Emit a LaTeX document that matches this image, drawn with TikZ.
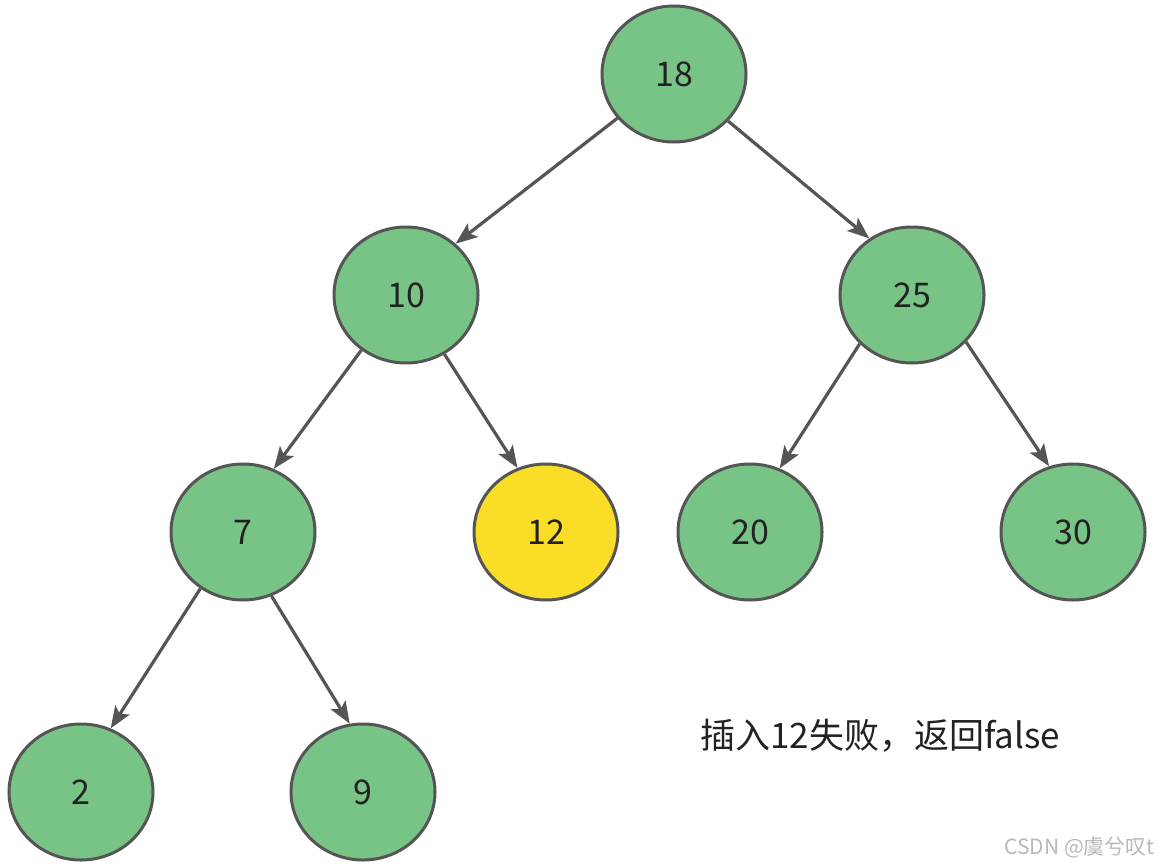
\documentclass[tikz,border=0pt]{standalone}
\usepackage{fontspec}
\setmainfont{Noto Sans CJK SC}
\usetikzlibrary{shapes.geometric,arrows.meta}
\definecolor{nodegreen}{HTML}{78C487}
\definecolor{nodeyellow}{HTML}{F9DD27}
\definecolor{edgegray}{HTML}{555555}
\definecolor{txt}{HTML}{222222}
\tikzset{
  treenode/.style={ellipse, draw=edgegray, line width=3pt, fill=nodegreen,
    minimum width=144pt, minimum height=136pt, inner sep=0pt,
    font=\fontsize{34}{40}\selectfont, text=txt},
  hitnode/.style={treenode, fill=nodeyellow},
  edge/.style={draw=edgegray, line width=3.2pt,
    -{Stealth[length=22pt,width=17pt,inset=5pt]}}
}
\begin{document}
\begin{tikzpicture}[x=1pt,y=-1pt]
\useasboundingbox (0,0) rectangle (1158,867);
\node[treenode] (n18) at (674,74) {18};
\node[treenode] (n10) at (406,295) {10};
\node[treenode] (n25) at (912,295) {25};
\node[treenode] (n7) at (243,532) {7};
\node[hitnode] (n12) at (546,532) {12};
\node[treenode] (n20) at (750,532) {20};
\node[treenode] (n30) at (1073,532) {30};
\node[treenode] (n2) at (81,792) {2};
\node[treenode] (n9) at (363,792) {9};
\draw[edge] (n18.218.7) -- (n10.46.6);
\draw[edge] (n18.319.4) -- (n25.127.7);
\draw[edge] (n10.231.1) -- (n7.64.8);
\draw[edge] (n10.303) -- (n12.114.1);
\draw[edge] (n25.223.9) -- (n20.65.8);
\draw[edge] (n25.319.4) -- (n30.110);
\draw[edge] (n7.233.9) -- (n2.65.8);
\draw[edge] (n7.294.7) -- (n9.101.8);
\node[anchor=west, inner sep=0pt, font=\fontsize{35}{42}\selectfont, text=txt] (msg) at (700,736) {插入12失败，返回false};
\node[anchor=east, inner sep=0pt, font=\fontsize{21}{24}\selectfont, text=black!28] (wm) at (1155,847) {CSDN @虞兮叹t};
\end{tikzpicture}
\end{document}
